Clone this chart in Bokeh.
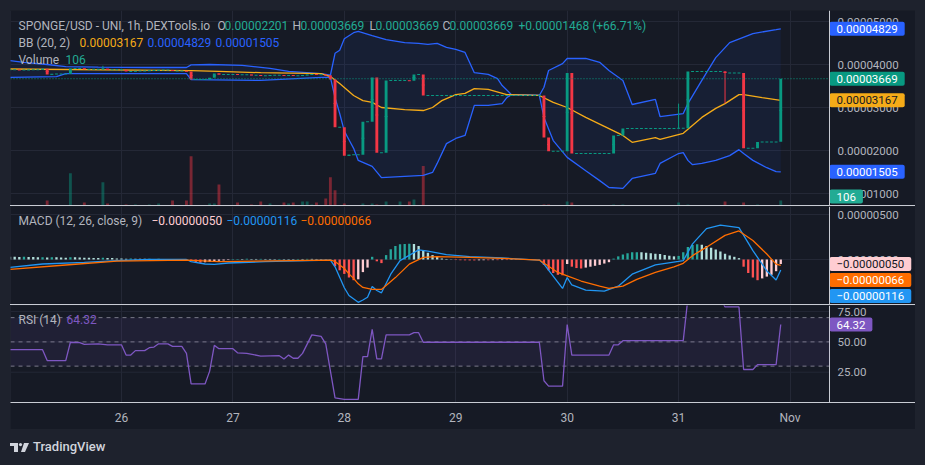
import numpy as np
from bokeh.plotting import figure
from bokeh.models import (Range1d, FixedTicker, Label, Span, BoxAnnotation, Spacer, Div,
                          ColumnDataSource)
from bokeh.layouts import column, row
from bokeh.embed import file_html
from bokeh.resources import INLINE
from bokeh.core.properties import value

# ---------------- data (hour index from Oct 25 00:00) ----------------
DAY_TICKS = [0, 24, 48, 72, 96, 120, 144, 168]
DAY_LABELS = ["25", "26", "27", "28", "29", "30", "31", "Nov"]
PRICE_TICKS = [1e-5, 2e-5, 3e-5, 4e-5, 5e-5]
MACD_TICKS = [0.0, 5e-6]
RSI_TICKS = [25, 50, 75]
RSI_LEVELS = [70, 50, 30]

PRICE_UNIT = 1e-5   # OHLC / BB values below are in 1e-5 USD
MACD_UNIT = 1e-6    # MACD values below are in 1e-6

OPEN = [3.88, 3.88, 3.88, 3.87, 3.87, 3.88, 3.88, 3.88, 3.90, 3.77,
        3.78, 3.78, 3.78, 3.78, 3.91, 3.91, 3.91, 3.89, 3.89, 3.89,
        3.89, 3.90, 3.88, 3.88, 3.88, 3.88, 3.84, 3.84, 3.85, 3.85,
        3.85, 3.86, 3.86, 3.87, 3.87, 3.87, 3.85, 3.85, 3.85, 3.84,
        3.65, 3.65, 3.65, 3.65, 3.69, 3.79, 3.77, 3.77, 3.77, 3.77,
        3.76, 3.76, 3.76, 3.75, 3.75, 3.74, 3.74, 3.75, 3.75, 3.75,
        3.74, 3.75, 3.74, 3.74, 3.75, 3.76, 3.77, 3.76, 3.76, 3.75,
        3.65, 2.54, 2.54, 1.88, 1.90, 1.90, 1.90, 2.67, 2.67, 3.70,
        1.95, 1.95, 3.63, 3.63, 3.63, 3.63, 3.63, 3.62, 3.77, 3.77,
        3.28, 3.28, 3.28, 3.28, 3.28, 3.28, 3.28, 3.28, 3.28, 3.28,
        3.28, 3.28, 3.28, 3.28, 3.28, 3.28, 3.28, 3.28, 3.28, 3.28,
        3.28, 3.28, 3.28, 3.28, 3.28, 3.28, 2.30, 1.98, 1.98, 1.98,
        1.98, 3.80, 1.93, 1.93, 1.93, 1.93, 1.93, 1.93, 1.93, 1.93,
        1.93, 2.35, 2.35, 2.51, 2.51, 2.51, 2.51, 2.51, 2.51, 2.51,
        2.51, 2.51, 2.51, 2.51, 2.51, 2.52, 2.52, 3.84, 3.84, 3.84,
        3.84, 3.84, 3.84, 3.84, 3.84, 3.80, 3.80, 3.80, 3.80, 2.05,
        2.05, 2.05, 2.20, 2.20, 2.20, 2.20, 2.201]
CLOSE = [3.88, 3.88, 3.87, 3.87, 3.88, 3.88, 3.88, 3.90, 3.77, 3.78,
         3.78, 3.78, 3.78, 3.91, 3.91, 3.91, 3.89, 3.89, 3.89, 3.89,
         3.90, 3.88, 3.88, 3.88, 3.88, 3.84, 3.84, 3.85, 3.85, 3.85,
         3.86, 3.86, 3.87, 3.87, 3.87, 3.85, 3.85, 3.85, 3.84, 3.65,
         3.65, 3.65, 3.65, 3.69, 3.79, 3.77, 3.77, 3.77, 3.77, 3.76,
         3.76, 3.76, 3.75, 3.75, 3.74, 3.74, 3.75, 3.75, 3.75, 3.74,
         3.75, 3.74, 3.74, 3.75, 3.76, 3.77, 3.76, 3.76, 3.75, 3.65,
         2.54, 2.54, 1.88, 1.90, 1.90, 1.90, 2.67, 2.67, 3.70, 1.95,
         1.95, 3.63, 3.63, 3.63, 3.63, 3.63, 3.62, 3.77, 3.77, 3.28,
         3.28, 3.28, 3.28, 3.28, 3.28, 3.28, 3.28, 3.28, 3.28, 3.28,
         3.28, 3.28, 3.28, 3.28, 3.28, 3.28, 3.28, 3.28, 3.28, 3.28,
         3.28, 3.28, 3.28, 3.28, 3.28, 2.30, 1.98, 1.98, 1.98, 1.98,
         3.80, 1.93, 1.93, 1.93, 1.93, 1.93, 1.93, 1.93, 1.93, 1.93,
         2.35, 2.35, 2.51, 2.51, 2.51, 2.51, 2.51, 2.51, 2.51, 2.51,
         2.51, 2.51, 2.51, 2.51, 2.52, 2.52, 3.84, 3.84, 3.84, 3.84,
         3.84, 3.84, 3.84, 3.84, 3.80, 3.80, 3.80, 3.80, 2.05, 2.05,
         2.05, 2.20, 2.20, 2.20, 2.20, 2.20, 3.669]
WICK_HOURS = [20, 144, 154]
WICK_HIGH = [3.97, 3.09, 3.84]
WICK_LOW = [3.89, 2.51, 3.10]

VOL_HOURS = [8, 13, 16, 20, 21, 25, 27, 30, 32, 35, 38, 39, 43, 44, 45, 49, 52, 54, 56, 59,
             60, 61, 63, 64, 65, 66, 68, 69, 70, 72, 76, 78, 79, 81, 84, 86, 87, 89, 115, 116,
             120, 121, 130, 132, 144, 146, 154, 158, 161, 166]
VOL_VALUES = [106, 680, 64, 490, 42, 21, 21, 21, 42, 106, 106, 1040, 42, 42, 445, 64, 21, 85, 42, 64,
              42, 64, 85, 85, 21, 64, 150, 595, 320, 42, 42, 42, 21, 85, 85, 85, 127, 830, 21, 21,
              85, 64, 21, 21, 64, 21, 85, 64, 21, 106]

BB_UP_H = [0, 3, 8, 12, 19, 30, 38, 39, 43, 50, 56, 60, 67, 69, 70, 71, 72, 74, 75, 78,
           81, 85, 88, 90, 92, 94, 96, 98, 100, 103, 105, 106, 108, 114, 115, 116, 119, 120, 124, 127,
           129, 132, 134, 139, 140, 145, 146, 149, 152, 155, 160, 165, 166]
BB_UP_V = [4.09, 4.05, 4.00, 3.95, 3.94, 3.93, 3.93, 3.99, 4.00, 3.98, 3.91, 3.84, 3.79, 3.75, 4.26, 4.33, 4.60, 4.74, 4.77, 4.67,
           4.58, 4.51, 4.49, 4.47, 4.49, 4.40, 4.35, 4.28, 3.81, 3.77, 3.67, 3.51, 3.30, 3.28, 3.47, 3.86, 4.02, 4.14, 4.14, 4.05,
           3.86, 3.63, 3.07, 3.19, 2.79, 2.86, 3.09, 3.63, 4.16, 4.51, 4.72, 4.81, 4.829]
BB_LO_H = [0, 10, 12, 38, 39, 54, 67, 69, 70, 71, 72, 73, 74, 75, 78, 80, 85, 89, 91, 92,
           94, 96, 98, 100, 103, 106, 107, 108, 114, 115, 117, 120, 124, 127, 129, 132, 134, 139, 140, 144,
           145, 146, 147, 149, 152, 155, 157, 158, 160, 163, 165, 166]
BB_LO_V = [3.70, 3.72, 3.79, 3.79, 3.65, 3.63, 3.70, 3.70, 3.23, 2.86, 2.45, 2.25, 2.05, 1.77, 1.63, 1.37, 1.40, 1.42, 1.49, 1.70,
           2.16, 2.28, 2.35, 3.05, 3.05, 3.09, 3.23, 3.30, 3.28, 2.77, 2.23, 1.84, 1.53, 1.30, 1.14, 1.12, 1.35, 1.47, 1.70, 1.93,
           1.95, 1.77, 1.67, 1.70, 1.77, 1.88, 2.02, 1.93, 1.77, 1.60, 1.51, 1.505]
BB_MID_H = [0, 39, 45, 54, 67, 69, 71, 74, 76, 78, 80, 85, 89, 91, 93, 96, 98, 100, 103, 107,
            114, 117, 120, 124, 128, 132, 134, 139, 140, 145, 149, 152, 154, 157, 158, 162, 166]
BB_MID_V = [3.895, 3.86, 3.84, 3.81, 3.79, 3.72, 3.56, 3.28, 3.16, 3.12, 3.00, 2.95, 2.93, 3.00, 3.16, 3.30, 3.33, 3.44, 3.42, 3.30,
            3.28, 3.12, 3.00, 2.77, 2.56, 2.35, 2.19, 2.30, 2.26, 2.40, 2.77, 2.98, 3.09, 3.30, 3.30, 3.23, 3.167]

MACD_H = [0, 7, 16, 23, 30, 38, 39, 42, 44, 47, 55, 69, 70, 72, 73, 75, 76, 77, 78, 79,
          80, 82, 84, 88, 90, 94, 99, 106, 114, 115, 119, 120, 121, 124, 128, 131, 134, 139, 144, 145,
          147, 150, 153, 157, 160, 163, 165, 166]
MACD_V = [-0.87, -0.50, -0.31, -0.13, 0.0, 0.0, -0.24, -0.50, -0.54, -0.39, -0.24, -0.06, -0.81, -3.14, -4.0, -4.76, -4.5, -4.19, -2.99, -3.44,
          -3.70, -1.63, -0.13, 1.07, 0.92, 0.54, 0.31, 0.17, -0.06, -0.51, -3.21, -2.01, -2.83, -3.40, -3.51, -2.96, -1.63, -0.59, -0.21, -0.13,
          1.74, 3.43, 3.81, 3.54, 0.99, -1.27, -2.28, -1.16]
SIGNAL_H = [0, 12, 23, 38, 45, 69, 70, 72, 73, 74, 75, 76, 78, 80, 83, 86, 89, 92, 99, 106,
            114, 118, 120, 123, 127, 129, 132, 135, 139, 143, 145, 147, 150, 154, 157, 160, 163, 165, 166]
SIGNAL_V = [-1.09, -0.61, -0.17, -0.06, -0.24, -0.06, -0.21, -1.0, -1.6, -2.1, -2.7, -3.1, -3.33, -3.33, -2.01, -0.51, 0.24, 0.31, 0.24, 0.13,
            -0.06, -1.44, -1.82, -2.39, -2.96, -3.21, -2.96, -2.2, -1.44, -0.81, -0.43, 0.43, 1.37, 2.68, 3.17, 2.12, 0.61, -0.51, -0.66]
HIST = [0.30, 0.30, 0.28, 0.30, 0.28, 0.27, 0.25, 0.26, 0.22, 0.25,
        0.24, 0.22, 0.20, 0.25, 0.24, 0.22, 0.20, 0.19, 0.18, 0.17,
        0.20, 0.18, 0.16, 0.12, 0.11, 0.09, 0.10, 0.09, 0.08, 0.07,
        0.08, 0.06, 0.07, 0.06, 0.05, 0.04, 0.05, 0.04, 0.03, -0.18,
        -0.30, -0.35, -0.30, -0.26, -0.20, -0.15, -0.10, -0.06, 0.05, 0.06,
        0.06, 0.07, 0.06, 0.06, 0.07, 0.06, 0.06, 0.05, 0.06, 0.05,
        0.05, 0.05, 0.06, 0.06, 0.07, 0.07, 0.06, 0.05, 0.04, 0.03,
        -0.75, -1.20, -1.60, -2.00, -2.30, -2.20, -1.40, -0.90, 0.30, -0.20,
        -0.40, 0.49, 1.13, 1.50, 1.70, 1.73, 1.74, 1.72, 1.50, 1.05,
        0.75, 0.49, 0.30, 0.11, 0.06, 0.03, -0.06, -0.08, -0.09, -0.10,
        -0.10, -0.09, -0.08, -0.08, -0.07, -0.07, -0.06, -0.06, -0.05, -0.05,
        -0.04, -0.04, -0.03, -0.03, -0.02, -0.60, -1.20, -1.50, -1.70, -1.75,
        -0.50, -0.80, -0.95, -1.00, -0.90, -0.80, -0.70, -0.60, -0.45, -0.30,
        0.10, 0.35, 0.55, 0.70, 0.80, 0.82, 0.80, 0.75, 0.70, 0.65,
        0.60, 0.50, 0.42, 0.35, 0.40, 0.80, 1.40, 1.60, 1.70, 1.65,
        1.50, 1.30, 1.10, 0.90, 0.65, 0.45, 0.30, 0.15, -0.80, -1.50,
        -2.00, -2.30, -2.10, -1.90, -1.70, -1.30, -0.50]

RSI_H = [0, 7, 8, 12, 13, 15, 16, 19, 21, 24, 25, 26, 27, 29, 30, 31, 32, 34, 35, 37,
         38, 39, 42, 43, 44, 45, 48, 49, 51, 54, 58, 59, 60, 61, 62, 63, 65, 67, 68, 70,
         72, 75, 76, 77, 78, 79, 80, 81, 86, 87, 88, 89, 114, 115, 116, 119, 120, 121, 129, 130,
         131, 132, 145, 146, 153, 154, 157, 158, 160, 161, 165, 166]
RSI_V = [43.6, 43.6, 34.6, 34.6, 49.7, 49.4, 47.9, 48.4, 47.6, 47.6, 39.1, 39.1, 42.8, 42.8, 45.2, 45.7, 48.4, 48.4, 46.3, 46.3,
         40.5, 15.3, 15.3, 25.9, 47.1, 44.4, 44.4, 41.0, 40.5, 38.3, 38.6, 35.9, 39.1, 36.5, 36.5, 40.5, 55.8, 54.5, 48.4, 3.9,
         2.6, 2.6, 37.8, 37.8, 60.3, 35.9, 35.9, 55.8, 55.8, 57.6, 57.6, 49.7, 49.7, 17.9, 13.5, 13.5, 64.3, 39.1, 39.1, 47.6,
         47.6, 51.0, 51.0, 86.0, 86.0, 78.8, 78.8, 27.2, 27.2, 31.2, 31.2, 64.32]

LAST = dict(open=2.201e-5, high=3.669e-5, low=3.669e-5, close=3.669e-5, change=1.468e-5, pct=66.71,
            basis=3.167e-5, upper=4.829e-5, lower=1.505e-5, volume=106,
            hist=-0.50e-6, macd=-1.16e-6, signal=-0.66e-6, rsi=64.32)

# ---------------- style ----------------
BG = "#161a25"
OUTER = "#1e222d"
GRID = "#242836"
SEP = "#c9ccd4"
TXT = "#b2b5be"
UP = "#089981"
DOWN = "#f23645"
BASIS = "#f5ab18"
FONT = "Roboto"
W = 905
SCALE_W = 86                      # width of the price-scale strip
XMIN, XMAX = 0.1, 176.5           # visible time span of the plot area (hours)
PX_PER_H = (W - SCALE_W) / (XMAX - XMIN)
XFULL = XMIN + W / PX_PER_H       # frame also covers the price-scale strip
xr = Range1d(XMIN, XFULL)
PAD = dict(left=7, right=7, top=3, bottom=3)


def make_fig(height, yr, bottom=0, xloc=None):
    p = figure(width=W, height=height, x_range=xr, y_range=yr, output_backend="svg",
               toolbar_location=None, x_axis_location=xloc, y_axis_location=None,
               min_border_left=0, min_border_right=0, min_border_top=0, min_border_bottom=bottom,
               background_fill_color=BG, border_fill_color=BG, outline_line_color=None)
    p.xgrid.ticker = FixedTicker(ticks=DAY_TICKS)
    p.xgrid.grid_line_color = GRID
    p.ygrid.grid_line_color = None
    return p


def scale(p, ticks, labels):
    # horizontal grid lines over the plot area, tick labels in the price-scale strip
    p.segment(x0=[XMIN] * len(ticks), x1=[XMAX] * len(ticks), y0=ticks, y1=ticks,
              line_color=GRID, line_width=1)
    p.text(x=[XMAX] * len(ticks), y=ticks, text=labels, x_offset=8, text_align="left",
           text_baseline="middle", text_color=TXT, text_font=value(FONT),
           text_font_size=value("11.5px"))
    p.add_layout(Span(location=XMAX, dimension="height", line_color=SEP, line_width=1))


def legend(p, ytop, items, ypx):
    for xpx, txt, col in items:
        p.add_layout(Label(x=XMIN, y=ytop, x_offset=xpx - 10, y_offset=-ypx, text=txt,
                           text_color=col, text_font=FONT, text_font_size="12px",
                           text_align="left", text_baseline="middle"))


def tags(p, ys, texts, bgs, fgs, rname="default"):
    src = ColumnDataSource(dict(x=[XMAX] * len(ys), y=ys, text=texts, bg=bgs, fg=fgs))
    p.text(x="x", y="y", text="text", source=src, text_color="fg", background_fill_color="bg",
           text_align="left", text_baseline="middle", text_font=value(FONT),
           text_font_size=value("11.5px"), padding=PAD, border_radius=2, y_range_name=rname)


def stacked(values, px_per_unit, gap=16.0):
    # push overlapping tags downwards, like the price scale does
    out = []
    for v in values:
        if out and (out[-1] - v) * px_per_unit < gap:
            v = out[-1] - gap / px_per_unit
        out.append(v)
    return out


# ---------------- main pane ----------------
PMIN, PMAX = 0.721e-5, 5.256e-5
MAIN_H = 195
pm = make_fig(MAIN_H, Range1d(PMIN, PMAX))
VOL_MAX = 4110
pm.extra_y_ranges = {"vol": Range1d(0, VOL_MAX)}

o = np.array(OPEN) * PRICE_UNIT
c = np.array(CLOSE) * PRICE_UNIT
hrs = np.arange(len(OPEN))
ccol = np.where(c >= o, UP, DOWN)

scale(pm, PRICE_TICKS, ["%.8f" % t for t in PRICE_TICKS])

up_x, up_y = list(BB_UP_H), [v * PRICE_UNIT for v in BB_UP_V]
lo_x, lo_y = list(BB_LO_H), [v * PRICE_UNIT for v in BB_LO_V]
pm.patch(up_x + lo_x[::-1], up_y + lo_y[::-1], fill_color="#2962ff", fill_alpha=0.07, line_color=None)

vcol = [UP if CLOSE[h] >= OPEN[h] else DOWN for h in VOL_HOURS]
pm.vbar(x=VOL_HOURS, top=VOL_VALUES, bottom=0, width=0.62, fill_color=vcol, fill_alpha=0.45,
        line_color=None, y_range_name="vol")

pm.line(up_x, up_y, line_color="#2962ff", line_width=1.3)
pm.line(lo_x, lo_y, line_color="#2962ff", line_width=1.3)
pm.line(BB_MID_H, [v * PRICE_UNIT for v in BB_MID_V], line_color=BASIS, line_width=1.3)

src = ColumnDataSource(dict(x=hrs, top=np.maximum(o, c), bottom=np.minimum(o, c),
                            mid=(o + c) / 2, color=ccol))
wcol = [UP if CLOSE[h] >= OPEN[h] else DOWN for h in WICK_HOURS]
pm.segment(x0=WICK_HOURS, x1=WICK_HOURS, y0=[v * PRICE_UNIT for v in WICK_LOW],
           y1=[v * PRICE_UNIT for v in WICK_HIGH], line_color=wcol, line_width=1)
pm.vbar(x="x", top="top", bottom="bottom", width=0.62, fill_color="color", line_color=None, source=src)
pm.rect(x="x", y="mid", width=0.62, height=1, height_units="screen", fill_color="color",
        line_color=None, source=src)

pm.segment(x0=[XMIN], x1=[XMAX], y0=[LAST["close"]], y1=[LAST["close"]], line_color=UP,
           line_dash="1 2", line_width=1)

legend(pm, PMAX, [(18, "SPONGE/USD - UNI, 1h, DEXTools.io", TXT),
                  (217, "O", TXT), (224, "%.8f" % LAST["open"], "#22ab94"),
                  (292, "H", TXT), (300, "%.8f" % LAST["high"], "#22ab94"),
                  (369, "L", TXT), (375, "%.8f" % LAST["low"], "#22ab94"),
                  (442, "C", TXT), (449, "%.8f" % LAST["close"], "#22ab94"),
                  (518, "+%.8f (+%.2f%%)" % (LAST["change"], LAST["pct"]), "#22ab94")], 15)
legend(pm, PMAX, [(18, "BB (20, 2)", TXT), (79, "%.8f" % LAST["basis"], BASIS),
                  (147, "%.8f" % LAST["upper"], "#2962ff"), (215, "%.8f" % LAST["lower"], "#2962ff")], 32)
legend(pm, PMAX, [(18, "Volume", TXT), (65, "%d" % LAST["volume"], "#22ab94")], 49)

main_vals = [LAST["upper"], LAST["close"], LAST["basis"], LAST["lower"]]
tags(pm, main_vals, ["%.8f" % v for v in main_vals],
     ["#2962ff", UP, BASIS, "#2962ff"], ["#ffffff", "#ffffff", "#131722", "#ffffff"])
vol_tag_y = max(LAST["volume"], 9.0 * VOL_MAX / MAIN_H)   # keep the tag inside the pane
tags(pm, [vol_tag_y], ["%d" % LAST["volume"]], ["#22ab94"], ["#ffffff"], rname="vol")

# ---------------- MACD pane ----------------
MMIN, MMAX = -5.0e-6, 5.89e-6
MACD_PH = 98
pmacd = make_fig(MACD_PH, Range1d(MMIN, MMAX))
scale(pmacd, MACD_TICKS, ["%.8f" % t for t in MACD_TICKS])

hcol = []
for i, hv in enumerate(HIST):
    pv = HIST[i - 1] if i > 0 else hv
    if hv >= 0:
        hcol.append("#26a69a" if hv > pv else "#b2dfdb")
    else:
        hcol.append("#ffcdd2" if hv > pv else "#ff5252")
pmacd.vbar(x=hrs, top=[v * MACD_UNIT for v in HIST], bottom=0, width=0.5, fill_color=hcol, line_color=None)
pmacd.line(MACD_H, [v * MACD_UNIT for v in MACD_V], line_color="#2196f3", line_width=1.3)
pmacd.line(SIGNAL_H, [v * MACD_UNIT for v in SIGNAL_V], line_color="#ff6d00", line_width=1.3)

legend(pmacd, MMAX, [(18, "MACD (12, 26, close, 9)", TXT),
                     (151, "\u2212%.8f" % abs(LAST["hist"]), "#ffcdd2"),
                     (226, "\u2212%.8f" % abs(LAST["macd"]), "#2196f3"),
                     (300, "\u2212%.8f" % abs(LAST["signal"]), "#ff6d00")], 14)
macd_vals = [LAST["hist"], LAST["signal"], LAST["macd"]]
tags(pmacd, stacked(macd_vals, MACD_PH / (MMAX - MMIN)),
     ["\u2212%.8f" % abs(v) for v in macd_vals],
     ["#ffcdd2", "#ff6d00", "#2196f3"], ["#131722", "#ffffff", "#ffffff"])

# ---------------- RSI pane ----------------
RMIN, RMAX = 0.0, 80.0
prsi = make_fig(124, Range1d(RMIN, RMAX), bottom=27, xloc="below")
scale(prsi, RSI_TICKS, ["%.2f" % t for t in RSI_TICKS])
xa = prsi.xaxis[0]
xa.ticker = FixedTicker(ticks=DAY_TICKS)
xa.major_label_overrides = {t: l for t, l in zip(DAY_TICKS, DAY_LABELS)}
xa.axis_line_color = SEP
xa.major_tick_line_color = None
xa.minor_tick_line_color = None
xa.major_tick_out = 0
xa.major_label_standoff = 8
xa.major_label_text_color = TXT
xa.major_label_text_font = FONT
xa.major_label_text_font_size = "12px"

prsi.add_layout(BoxAnnotation(left=XMIN, right=XMAX, bottom=RSI_LEVELS[2], top=RSI_LEVELS[0],
                              fill_color="#7e57c2", fill_alpha=0.1, line_color=None))
prsi.segment(x0=[XMIN] * 3, x1=[XMAX] * 3, y0=RSI_LEVELS, y1=RSI_LEVELS, line_color="#787b86",
             line_dash="4 4", line_width=1)
prsi.line(RSI_H, RSI_V, line_color="#7e57c2", line_width=1.3)
legend(prsi, RMAX, [(18, "RSI (14)", TXT), (66, "%.2f" % LAST["rsi"], "#7e57c2")], 14)
tags(prsi, [LAST["rsi"]], ["%.2f" % LAST["rsi"]], ["#7e57c2"], ["#ffffff"])

# ---------------- layout ----------------
logo = ('<svg width="19" height="9" viewBox="0 0 19 9"><path d="M0 0H8V9H4V3H0Z" fill="#d1d4dc"/>'
        '<circle cx="10.5" cy="1.6" r="1.6" fill="#d1d4dc"/><path d="M14 0H19L15 9H11Z" fill="#d1d4dc"/></svg>')
footer = Div(width=W, height=36, margin=0,
             text=('<div style="display:flex;align-items:center;height:36px;color:#d1d4dc;'
                   'font-family:Roboto;font-size:13px;font-weight:500;">' + logo +
                   '<span style="margin-left:4px">TradingView</span></div>'))
sep1 = Spacer(width=W, height=1, styles={"background-color": SEP})
sep2 = Spacer(width=W, height=1, styles={"background-color": SEP})
col = column(Spacer(width=W, height=10), pm, sep1, pmacd, sep2, prsi, footer,
             styles={"background-color": OUTER})
layout = row(Spacer(width=10, height=465), col, Spacer(width=10, height=465),
             styles={"background-color": OUTER})

open("out.html", "w").write(file_html(layout, INLINE))
